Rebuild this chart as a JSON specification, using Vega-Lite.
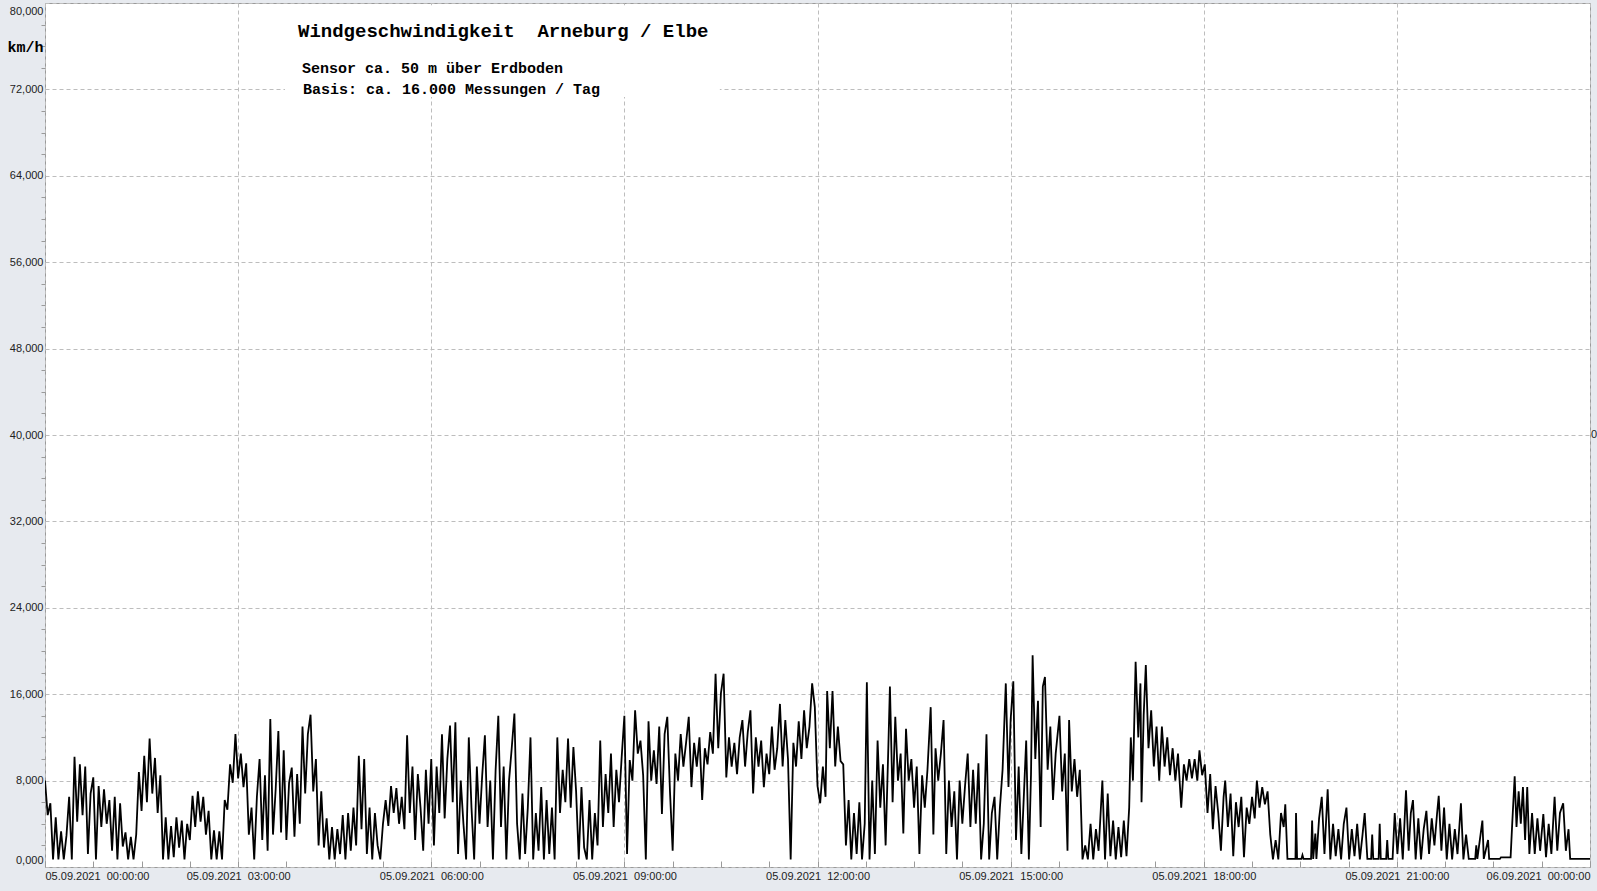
{
  "$schema": "https://vega.github.io/schema/vega-lite/v6.json",
  "autosize": {"type": "none"},
  "padding": {"left": 45, "top": 3, "right": 7, "bottom": 24},
  "width": 1545,
  "height": 864,
  "background": "#e7eaef",
  "config": {
    "view": {"fill": "white", "stroke": "#9a9a9a", "strokeWidth": 1},
    "font": "Liberation Sans"
  },
  "resolve": {"axis": {"x": "independent", "y": "independent"}},
  "datasets": {
    "wind": [
      {"m":0,"v":8.0},{"m":2.5,"v":4.8},{"m":5,"v":5.9},{"m":7.5,"v":0.7},{"m":10,"v":4.6},{"m":12.5,"v":0.7},{"m":15,"v":3.3},{"m":17.5,"v":0.7},
      {"m":20,"v":2.9},{"m":22.5,"v":6.5},{"m":25,"v":0.7},{"m":27.5,"v":10.2},{"m":30,"v":4.2},{"m":32.5,"v":9.5},{"m":35,"v":4.8},{"m":37.5,"v":9.3},
      {"m":40,"v":1.2},{"m":42.5,"v":6.8},{"m":45,"v":8.3},{"m":47.5,"v":0.7},{"m":50,"v":7.5},{"m":52.5,"v":3.7},{"m":55,"v":7.2},{"m":57.5,"v":4.0},
      {"m":60,"v":6.2},{"m":62.5,"v":1.5},{"m":65,"v":6.5},{"m":67.5,"v":0.7},{"m":70,"v":5.9},{"m":72.5,"v":1.9},{"m":75,"v":3.2},{"m":77.5,"v":0.7},
      {"m":80,"v":2.8},{"m":82.5,"v":0.7},{"m":85,"v":3.0},{"m":87.5,"v":8.8},{"m":90,"v":5.2},{"m":92.5,"v":10.3},{"m":95,"v":6.0},{"m":97.5,"v":11.9},
      {"m":100,"v":6.8},{"m":102.5,"v":10.1},{"m":105,"v":5.0},{"m":107.5,"v":8.5},{"m":110,"v":0.7},{"m":112.5,"v":4.6},{"m":115,"v":0.7},{"m":117.5,"v":3.8},
      {"m":120,"v":0.9},{"m":122.5,"v":4.6},{"m":125,"v":1.8},{"m":127.5,"v":4.3},{"m":130,"v":0.7},{"m":132.5,"v":4.0},{"m":135,"v":2.5},{"m":137.5,"v":6.6},
      {"m":140,"v":3.7},{"m":142.5,"v":7.0},{"m":145,"v":4.2},{"m":147.5,"v":6.5},{"m":150,"v":3.0},{"m":152.5,"v":5.2},{"m":155,"v":0.7},{"m":157.5,"v":3.4},
      {"m":160,"v":0.7},{"m":162.5,"v":3.3},{"m":165,"v":0.7},{"m":167.5,"v":6.2},{"m":170,"v":5.3},{"m":172.5,"v":9.5},{"m":175,"v":7.8},{"m":177.5,"v":12.3},
      {"m":180,"v":8.2},{"m":182.5,"v":10.5},{"m":185,"v":7.4},{"m":187.5,"v":9.6},{"m":190,"v":3.0},{"m":192.5,"v":5.5},{"m":195,"v":0.7},{"m":197.5,"v":6.5},
      {"m":200,"v":10.0},{"m":202.5,"v":2.5},{"m":205,"v":8.5},{"m":207.5,"v":1.5},{"m":210,"v":13.7},{"m":212.5,"v":3.0},{"m":215,"v":7.2},{"m":217.5,"v":12.6},
      {"m":220,"v":3.2},{"m":222.5,"v":10.8},{"m":225,"v":2.5},{"m":227.5,"v":7.8},{"m":230,"v":9.2},{"m":232.5,"v":2.8},{"m":235,"v":8.6},{"m":237.5,"v":4.0},
      {"m":240,"v":13.0},{"m":242.5,"v":6.8},{"m":245,"v":12.3},{"m":247.5,"v":14.1},{"m":250,"v":7.0},{"m":252.5,"v":10.0},{"m":255,"v":2.0},{"m":257.5,"v":7.0},
      {"m":260,"v":1.8},{"m":262.5,"v":4.5},{"m":265,"v":0.7},{"m":267.5,"v":3.7},{"m":270,"v":0.7},{"m":272.5,"v":3.5},{"m":275,"v":1.2},{"m":277.5,"v":4.8},
      {"m":280,"v":0.7},{"m":282.5,"v":5.0},{"m":285,"v":1.5},{"m":287.5,"v":5.5},{"m":290,"v":2.0},{"m":292.5,"v":10.3},{"m":295,"v":3.5},{"m":297.5,"v":10.0},
      {"m":300,"v":1.2},{"m":302.5,"v":5.5},{"m":305,"v":0.7},{"m":307.5,"v":5.0},{"m":310,"v":2.0},{"m":312.5,"v":0.7},{"m":315,"v":4.0},{"m":317.5,"v":6.2},
      {"m":320,"v":3.8},{"m":322.5,"v":7.5},{"m":325,"v":5.0},{"m":327.5,"v":7.3},{"m":330,"v":4.0},{"m":332.5,"v":6.5},{"m":335,"v":3.5},{"m":337.5,"v":12.2},
      {"m":340,"v":5.0},{"m":342.5,"v":9.3},{"m":345,"v":2.5},{"m":347.5,"v":8.6},{"m":350,"v":5.5},{"m":352.5,"v":1.5},{"m":355,"v":9.0},{"m":357.5,"v":4.0},
      {"m":360,"v":10.0},{"m":362.5,"v":2.0},{"m":365,"v":9.3},{"m":367.5,"v":5.0},{"m":370,"v":12.3},{"m":372.5,"v":4.5},{"m":375,"v":10.0},{"m":377.5,"v":13.1},
      {"m":380,"v":6.0},{"m":382.5,"v":13.4},{"m":385,"v":1.2},{"m":387.5,"v":8.0},{"m":390,"v":4.0},{"m":392.5,"v":0.7},{"m":395,"v":12.0},{"m":397.5,"v":5.5},
      {"m":400,"v":0.7},{"m":402.5,"v":9.3},{"m":405,"v":4.0},{"m":407.5,"v":8.5},{"m":410,"v":12.2},{"m":412.5,"v":3.7},{"m":415,"v":8.0},{"m":417.5,"v":0.7},
      {"m":420,"v":9.0},{"m":422.5,"v":14.0},{"m":425,"v":3.7},{"m":427.5,"v":9.3},{"m":430,"v":0.7},{"m":432.5,"v":8.0},{"m":435,"v":11.0},{"m":437.5,"v":14.2},
      {"m":440,"v":4.0},{"m":442.5,"v":0.7},{"m":445,"v":6.8},{"m":447.5,"v":1.2},{"m":450,"v":5.5},{"m":452.5,"v":12.0},{"m":455,"v":0.7},{"m":457.5,"v":5.0},
      {"m":460,"v":1.5},{"m":462.5,"v":7.4},{"m":465,"v":0.7},{"m":467.5,"v":6.2},{"m":470,"v":1.2},{"m":472.5,"v":5.5},{"m":475,"v":0.7},{"m":477.5,"v":12.0},
      {"m":480,"v":5.0},{"m":482.5,"v":9.0},{"m":485,"v":6.0},{"m":487.5,"v":11.9},{"m":490,"v":5.5},{"m":492.5,"v":11.1},{"m":495,"v":7.0},{"m":497.5,"v":0.7},
      {"m":500,"v":7.4},{"m":502.5,"v":1.8},{"m":505,"v":0.7},{"m":507.5,"v":6.2},{"m":510,"v":0.7},{"m":512.5,"v":5.0},{"m":515,"v":2.0},{"m":517.5,"v":11.7},
      {"m":520,"v":3.7},{"m":522.5,"v":8.6},{"m":525,"v":5.0},{"m":527.5,"v":10.5},{"m":530,"v":3.7},{"m":532.5,"v":9.0},{"m":535,"v":6.0},{"m":537.5,"v":10.2},
      {"m":540,"v":14.0},{"m":542.5,"v":1.2},{"m":545,"v":9.9},{"m":547.5,"v":8.0},{"m":550,"v":14.5},{"m":552.5,"v":10.5},{"m":555,"v":11.7},{"m":557.5,"v":8.5},
      {"m":560,"v":0.7},{"m":562.5,"v":13.5},{"m":565,"v":8.0},{"m":567.5,"v":10.8},{"m":570,"v":7.7},{"m":572.5,"v":13.0},{"m":575,"v":4.9},{"m":577.5,"v":12.3},
      {"m":580,"v":13.9},{"m":582.5,"v":7.0},{"m":585,"v":1.5},{"m":587.5,"v":10.5},{"m":590,"v":8.0},{"m":592.5,"v":12.3},{"m":595,"v":9.3},{"m":597.5,"v":11.5},
      {"m":600,"v":13.9},{"m":602.5,"v":7.4},{"m":605,"v":11.5},{"m":607.5,"v":9.3},{"m":610,"v":12.0},{"m":612.5,"v":6.2},{"m":615,"v":11.0},{"m":617.5,"v":9.5},
      {"m":620,"v":12.5},{"m":622.5,"v":10.5},{"m":625,"v":17.9},{"m":627.5,"v":11.0},{"m":630,"v":16.1},{"m":632.5,"v":17.9},{"m":635,"v":8.3},{"m":637.5,"v":12.0},
      {"m":640,"v":9.3},{"m":642.5,"v":11.5},{"m":645,"v":8.6},{"m":647.5,"v":12.0},{"m":650,"v":13.6},{"m":652.5,"v":9.3},{"m":655,"v":12.5},{"m":657.5,"v":14.5},
      {"m":660,"v":6.8},{"m":662.5,"v":12.0},{"m":665,"v":9.3},{"m":667.5,"v":11.7},{"m":670,"v":7.4},{"m":672.5,"v":10.5},{"m":675,"v":8.6},{"m":677.5,"v":13.0},
      {"m":680,"v":9.0},{"m":682.5,"v":11.0},{"m":685,"v":15.1},{"m":687.5,"v":9.3},{"m":690,"v":13.6},{"m":692.5,"v":10.0},{"m":695,"v":0.7},{"m":697.5,"v":11.5},
      {"m":700,"v":9.3},{"m":702.5,"v":13.5},{"m":705,"v":10.0},{"m":707.5,"v":14.5},{"m":710,"v":11.0},{"m":712.5,"v":13.0},{"m":715,"v":17.0},{"m":717.5,"v":14.8},
      {"m":720,"v":7.5},{"m":722.5,"v":5.9},{"m":725,"v":9.3},{"m":727.5,"v":6.5},{"m":729,"v":16.3},{"m":731.5,"v":11.0},{"m":734,"v":16.3},{"m":736.5,"v":9.3},
      {"m":739,"v":13.0},{"m":741.5,"v":9.8},{"m":744,"v":9.5},{"m":746.5,"v":2.0},{"m":749,"v":6.2},{"m":751.5,"v":0.7},{"m":754,"v":5.0},{"m":756.5,"v":1.2},
      {"m":759,"v":6.0},{"m":761.5,"v":0.7},{"m":764,"v":4.0},{"m":766,"v":17.1},{"m":768.5,"v":0.7},{"m":771,"v":8.0},{"m":773.5,"v":1.2},{"m":776,"v":11.7},
      {"m":778.5,"v":5.5},{"m":781,"v":9.5},{"m":783.5,"v":2.0},{"m":786,"v":11.0},{"m":787.5,"v":16.7},{"m":790,"v":6.0},{"m":792.5,"v":13.9},{"m":795,"v":8.0},
      {"m":797.5,"v":10.5},{"m":800,"v":3.1},{"m":802.5,"v":12.8},{"m":805,"v":8.0},{"m":807.5,"v":10.0},{"m":810,"v":5.5},{"m":812.5,"v":9.3},{"m":815,"v":1.2},
      {"m":817.5,"v":8.5},{"m":820,"v":5.5},{"m":822.5,"v":9.0},{"m":825.5,"v":14.8},{"m":828,"v":3.0},{"m":830,"v":11.0},{"m":832.5,"v":8.0},{"m":835,"v":10.5},
      {"m":837.5,"v":13.6},{"m":840,"v":1.2},{"m":842.5,"v":8.0},{"m":845,"v":3.7},{"m":847.5,"v":7.0},{"m":850,"v":0.7},{"m":852.5,"v":8.0},{"m":855,"v":4.0},
      {"m":857.5,"v":7.5},{"m":860,"v":10.5},{"m":862.5,"v":3.7},{"m":865,"v":9.0},{"m":867.5,"v":4.0},{"m":870,"v":9.6},{"m":872.5,"v":0.7},{"m":875,"v":4.0},
      {"m":877.5,"v":12.3},{"m":880,"v":0.7},{"m":882.5,"v":5.0},{"m":885,"v":6.5},{"m":887.5,"v":0.7},{"m":890,"v":5.5},{"m":892.5,"v":9.0},{"m":895.5,"v":17.0},
      {"m":898,"v":7.4},{"m":900,"v":13.6},{"m":902.5,"v":17.2},{"m":905,"v":2.5},{"m":907.5,"v":9.3},{"m":910,"v":1.2},{"m":912.5,"v":7.0},{"m":914.5,"v":11.7},
      {"m":917,"v":0.7},{"m":919,"v":8.6},{"m":920.5,"v":19.6},{"m":923,"v":10.0},{"m":925.5,"v":15.4},{"m":928,"v":3.7},{"m":930,"v":16.7},{"m":932,"v":17.6},
      {"m":934.5,"v":9.0},{"m":937,"v":13.0},{"m":939.5,"v":6.2},{"m":942,"v":10.5},{"m":945.5,"v":14.0},{"m":948,"v":7.0},{"m":950.5,"v":10.5},{"m":953,"v":1.5},
      {"m":954.5,"v":13.6},{"m":957,"v":7.0},{"m":959.5,"v":10.0},{"m":962,"v":6.5},{"m":964.5,"v":9.0},{"m":967,"v":0.7},{"m":969.5,"v":2.0},{"m":972,"v":0.7},
      {"m":974.5,"v":4.0},{"m":977,"v":0.7},{"m":979.5,"v":3.5},{"m":982,"v":1.5},{"m":985.5,"v":8.0},{"m":988,"v":0.7},{"m":990.5,"v":6.8},{"m":993,"v":1.0},
      {"m":995.5,"v":4.3},{"m":998,"v":0.7},{"m":1000.5,"v":3.7},{"m":1003,"v":0.9},{"m":1005.5,"v":4.3},{"m":1008,"v":1.0},{"m":1010.5,"v":5.5},{"m":1012,"v":12.0},
      {"m":1014,"v":8.0},{"m":1016.5,"v":19.0},{"m":1019,"v":12.0},{"m":1021,"v":17.0},{"m":1022,"v":6.0},{"m":1024,"v":14.0},{"m":1026,"v":18.7},{"m":1028.5,"v":11.0},
      {"m":1031,"v":14.5},{"m":1033.5,"v":9.3},{"m":1036,"v":13.0},{"m":1038.5,"v":8.0},{"m":1041,"v":13.0},{"m":1043.5,"v":9.3},{"m":1046,"v":12.0},{"m":1048.5,"v":8.5},
      {"m":1051,"v":11.0},{"m":1053.5,"v":8.0},{"m":1056,"v":10.5},{"m":1059,"v":5.5},{"m":1061.5,"v":9.5},{"m":1064,"v":8.0},{"m":1066.5,"v":10.0},{"m":1069,"v":8.2},
      {"m":1071.5,"v":10.0},{"m":1074,"v":8.0},{"m":1076,"v":10.8},{"m":1078.5,"v":8.5},{"m":1081,"v":9.5},{"m":1083.5,"v":5.0},{"m":1086,"v":8.6},{"m":1088.5,"v":3.5},
      {"m":1091,"v":7.5},{"m":1093.5,"v":5.0},{"m":1096,"v":1.5},{"m":1098.5,"v":6.5},{"m":1100,"v":8.0},{"m":1102.5,"v":3.7},{"m":1105,"v":6.8},{"m":1107.5,"v":1.0},
      {"m":1110,"v":6.0},{"m":1112.5,"v":3.7},{"m":1115,"v":6.5},{"m":1117.5,"v":0.9},{"m":1120,"v":5.5},{"m":1122.5,"v":4.0},{"m":1125,"v":6.5},{"m":1127.5,"v":4.5},
      {"m":1129.5,"v":8.0},{"m":1132,"v":5.5},{"m":1134.5,"v":7.4},{"m":1137,"v":5.8},{"m":1139.5,"v":7.0},{"m":1142,"v":3.0},{"m":1144.5,"v":0.7},{"m":1147,"v":2.5},
      {"m":1149.5,"v":0.7},{"m":1152,"v":5.0},{"m":1154.5,"v":3.7},{"m":1156,"v":5.8},{"m":1158,"v":0.75},{"m":1165.5,"v":0.75},{"m":1166,"v":5.0},{"m":1167,"v":0.75},
      {"m":1171,"v":0.75},{"m":1172,"v":1.1},{"m":1173,"v":0.75},{"m":1180,"v":0.75},{"m":1181,"v":4.3},{"m":1182,"v":0.75},{"m":1184,"v":3.1},{"m":1185,"v":0.75},
      {"m":1187.5,"v":4.5},{"m":1190,"v":6.5},{"m":1192.5,"v":1.2},{"m":1195.5,"v":7.2},{"m":1198,"v":0.7},{"m":1200.5,"v":4.0},{"m":1203,"v":1.0},{"m":1205.5,"v":3.5},
      {"m":1208,"v":0.7},{"m":1210.5,"v":4.0},{"m":1213,"v":5.5},{"m":1215.5,"v":0.7},{"m":1218,"v":3.5},{"m":1220.5,"v":1.0},{"m":1223,"v":4.0},{"m":1225.5,"v":0.7},
      {"m":1228,"v":3.0},{"m":1230,"v":5.0},{"m":1232.5,"v":0.75},{"m":1236,"v":0.75},{"m":1237,"v":3.0},{"m":1238,"v":0.75},{"m":1243,"v":0.75},{"m":1244,"v":4.0},
      {"m":1245,"v":0.75},{"m":1250,"v":0.75},{"m":1251,"v":2.5},{"m":1252,"v":0.75},{"m":1256,"v":0.75},{"m":1258,"v":5.0},{"m":1260.5,"v":1.2},{"m":1263,"v":4.5},
      {"m":1265.5,"v":0.7},{"m":1268.5,"v":7.1},{"m":1271,"v":1.5},{"m":1273,"v":5.0},{"m":1275,"v":6.2},{"m":1277.5,"v":0.7},{"m":1280,"v":4.5},{"m":1282.5,"v":0.7},
      {"m":1285,"v":3.5},{"m":1287.5,"v":5.2},{"m":1290,"v":1.2},{"m":1292.5,"v":4.5},{"m":1295,"v":2.0},{"m":1297.5,"v":5.0},{"m":1299,"v":6.6},{"m":1301.5,"v":1.5},
      {"m":1304,"v":5.5},{"m":1306.5,"v":0.7},{"m":1309,"v":4.0},{"m":1311.5,"v":0.7},{"m":1314,"v":3.5},{"m":1316.5,"v":1.2},{"m":1319.7,"v":5.9},{"m":1322,"v":0.7},
      {"m":1324.5,"v":3.0},{"m":1327,"v":0.75},{"m":1333,"v":0.75},{"m":1334,"v":2.0},{"m":1335,"v":0.75},{"m":1339.7,"v":4.3},{"m":1341,"v":0.75},{"m":1345,"v":2.5},
      {"m":1346,"v":0.75},{"m":1356,"v":0.75},{"m":1357,"v":0.9},{"m":1366,"v":0.9},{"m":1367.5,"v":4.0},{"m":1369.8,"v":8.4},{"m":1371.5,"v":3.7},{"m":1373.5,"v":7.0},
      {"m":1375.5,"v":4.0},{"m":1377.5,"v":7.4},{"m":1379.5,"v":2.5},{"m":1381.5,"v":7.4},{"m":1383.5,"v":1.2},{"m":1386,"v":5.0},{"m":1388.5,"v":1.2},{"m":1391,"v":4.5},
      {"m":1393.5,"v":1.5},{"m":1396.5,"v":4.9},{"m":1399,"v":0.9},{"m":1401.5,"v":4.0},{"m":1404,"v":1.2},{"m":1407,"v":6.5},{"m":1409.5,"v":1.5},{"m":1412,"v":5.0},
      {"m":1415,"v":5.9},{"m":1417.5,"v":1.5},{"m":1420,"v":3.5},{"m":1421.5,"v":0.75},{"m":1440,"v":0.75}
    ],
    "box": [{"m1": 223.7, "m2": 629, "v1": 71.3, "v2": 79.8}],
    "title": [{"m": 235.8, "v": 77.4, "t": "Windgeschwindigkeit\u00a0 Arneburg / Elbe"}],
    "notes": [
      {"m": 239.5, "v": 74.0, "t": "Sensor ca. 50 m über Erdboden"},
      {"m": 240.5, "v": 72.0, "t": "Basis: ca. 16.000 Messungen / Tag"}
    ],
    "right": [{"m": 1440, "v": 40, "t": "0"}]
  },
  "layer": [
    {
      "data": {"name": "wind"},
      "mark": {"type": "line", "color": "#000000", "strokeWidth": 1.8, "clip": true},
      "encoding": {
        "x": {
          "field": "m", "type": "quantitative",
          "scale": {"domain": [0, 1440], "nice": false, "zero": false},
          "axis": {
            "title": null,
            "values": [0,45,90,135,180,225,270,315,360,405,450,495,540,585,630,675,720,765,810,855,900,945,990,1035,1080,1125,1170,1215,1260,1305,1350,1395,1440],
            "labelExpr": "datum.value % 180 === 0 ? (datum.value === 1440 ? '06.09.2021\u00a0\u00a000:00:00' : '05.09.2021\u00a0\u00a0' + (datum.value < 600 ? '0' : '') + (datum.value / 60) + ':00:00') : ''",
            "labelFlush": true,
            "labelOverlap": false,
            "labelBound": false,
            "labelFont": "Liberation Sans",
            "labelFontSize": 11,
            "labelColor": "#222222",
            "labelPadding": 9,
            "tickSize": -6,
            "tickColor": "#9a9a9a",
            "domain": false,
            "grid": true,
            "gridColor": "#bdbdbd",
            "gridDash": [4, 3],
            "gridOpacity": {"condition": {"test": "datum.value % 180 === 0", "value": 1}, "value": 0}
          }
        },
        "y": {
          "field": "v", "type": "quantitative",
          "scale": {"domain": [0, 80], "nice": false},
          "axis": {
            "title": "km/h",
            "titleAngle": 0,
            "titleX": -38,
            "titleY": 43,
            "titleAlign": "left",
            "titleBaseline": "middle",
            "titleFont": "Liberation Mono",
            "titleFontSize": 15,
            "titleFontWeight": "bold",
            "titleColor": "#000000",
            "values": [0,2,4,6,8,10,12,14,16,18,20,22,24,26,28,30,32,34,36,38,40,42,44,46,48,50,52,54,56,58,60,62,64,66,68,70,72,74,76,78,80],
            "labelExpr": "datum.value % 8 === 0 ? replace(format(datum.value, '.3f'), '.', ',') : ''",
            "labelFlush": true,
            "labelFlushOffset": -2,
            "labelOverlap": false,
            "labelFont": "Liberation Sans",
            "labelFontSize": 11,
            "labelColor": "#222222",
            "labelPadding": -2,
            "tickSize": 4,
            "tickColor": "#9a9a9a",
            "tickOpacity": {"condition": {"test": "datum.value % 8 === 0", "value": 0}, "value": 1},
            "domain": false,
            "grid": true,
            "gridColor": "#bdbdbd",
            "gridDash": [4, 3],
            "gridOpacity": {"condition": {"test": "datum.value % 8 === 0", "value": 1}, "value": 0}
          }
        }
      }
    },
    {
      "data": {"name": "box"},
      "mark": {"type": "rect", "fill": "white"},
      "encoding": {
        "x": {"field": "m1", "type": "quantitative", "axis": null},
        "x2": {"field": "m2"},
        "y": {"field": "v1", "type": "quantitative", "axis": null},
        "y2": {"field": "v2"}
      }
    },
    {
      "data": {"name": "title"},
      "mark": {"type": "text", "align": "left", "baseline": "middle", "font": "Liberation Mono", "fontSize": 19, "fontWeight": "bold", "color": "#000000"},
      "encoding": {
        "x": {"field": "m", "type": "quantitative", "axis": null},
        "y": {"field": "v", "type": "quantitative", "axis": null},
        "text": {"field": "t"}
      }
    },
    {
      "data": {"name": "notes"},
      "mark": {"type": "text", "align": "left", "baseline": "middle", "font": "Liberation Mono", "fontSize": 15, "fontWeight": "bold", "color": "#000000"},
      "encoding": {
        "x": {"field": "m", "type": "quantitative", "axis": null},
        "y": {"field": "v", "type": "quantitative", "axis": null},
        "text": {"field": "t"}
      }
    },
    {
      "data": {"name": "right"},
      "mark": {"type": "text", "align": "left", "baseline": "middle", "dx": 1, "font": "Liberation Sans", "fontSize": 11, "color": "#222222"},
      "encoding": {
        "x": {"field": "m", "type": "quantitative", "axis": null},
        "y": {"field": "v", "type": "quantitative", "axis": null},
        "text": {"field": "t"}
      }
    }
  ]
}
